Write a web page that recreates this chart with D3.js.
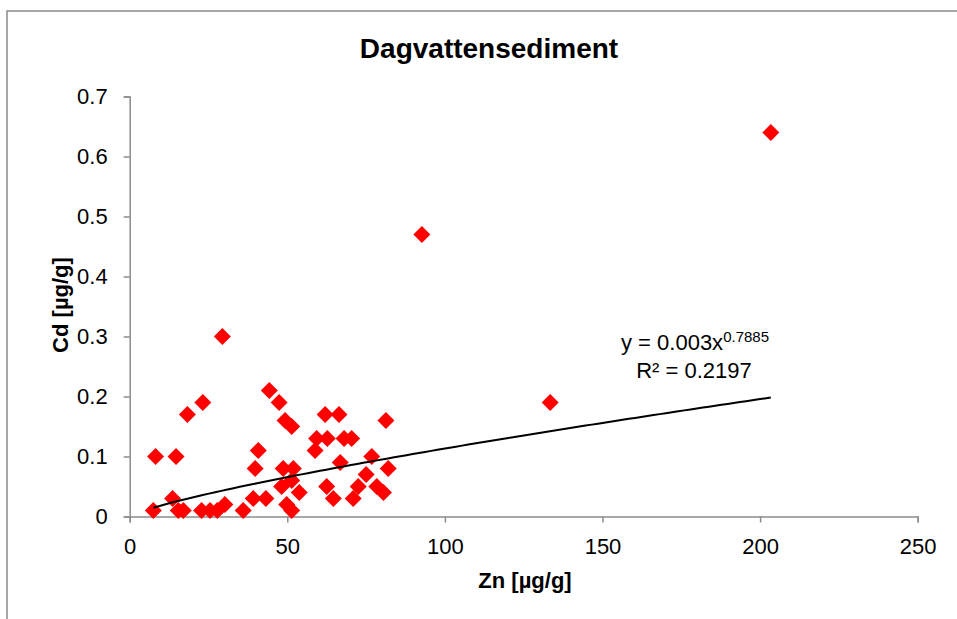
<!DOCTYPE html>
<html>
<head>
<meta charset="utf-8">
<script src="https://cdn.jsdelivr.net/npm/d3@7"></script>
<style>
  body { margin: 0; background: #fff; }
  text { font-family: "Liberation Sans", Arial, sans-serif; fill: #000; }
</style>
</head>
<body>
<svg id="chart" width="957" height="619"></svg>
<script>
// Zn and Cd values
var zn = [7.5, 8.2, 13.6, 14.7, 15.4, 17.0, 18.3, 22.8, 23.2, 25.5,
  27.8, 29.4, 30.2, 36.0, 39.2, 39.8, 40.8, 43.2, 44.3, 47.4,
  48.2, 48.7, 49.3, 49.8, 51.4, 51.4, 51.4, 51.9, 53.8, 58.8,
  59.3, 62.0, 62.5, 62.7, 64.6, 66.4, 66.8, 68.0, 70.4, 70.9,
  72.5, 75.0, 76.8, 78.4, 80.5, 81.3, 82.0, 92.7, 133.4, 203.4];
var cd = [0.01, 0.10, 0.03, 0.10, 0.01, 0.01, 0.17, 0.01, 0.19, 0.01,
  0.01, 0.30, 0.02, 0.01, 0.03, 0.08, 0.11, 0.03, 0.21, 0.19,
  0.05, 0.08, 0.16, 0.02, 0.15, 0.01, 0.06, 0.08, 0.04, 0.11,
  0.13, 0.17, 0.05, 0.13, 0.03, 0.17, 0.09, 0.13, 0.13, 0.03,
  0.05, 0.07, 0.10, 0.05, 0.04, 0.16, 0.08, 0.47, 0.19, 0.64];
var xTicks = [0, 50, 100, 150, 200, 250];
var yTicks = [0, 0.1, 0.2, 0.3, 0.4, 0.5, 0.6, 0.7];
// power trendline from the chart label
var fitA = 0.003, fitB = 0.7885, fitR2 = "0.2197";

var svg = d3.select("#chart");

// outer chart border (runs off right and bottom edges)
svg.append("rect")
  .attr("x", 7).attr("y", 11)
  .attr("width", 1000).attr("height", 700)
  .attr("fill", "none")
  .attr("stroke", "#8c8c8c")
  .attr("stroke-width", 1.5);

var x = d3.scaleLinear().domain([0, 250]).range([129.7, 917.7]);
var y = d3.scaleLinear().domain([0, 0.7]).range([516.5, 96.5]);

svg.append("text")
  .attr("x", 489).attr("y", 58)
  .attr("text-anchor", "middle")
  .style("font-size", "28px")
  .style("font-weight", "bold")
  .text("Dagvattensediment");

var xAxis = svg.append("g")
  .attr("transform", "translate(0," + y(0) + ")")
  .call(d3.axisBottom(x).tickValues(xTicks).tickSize(6).tickPadding(16).tickFormat(d3.format("d")));

var yAxis = svg.append("g")
  .attr("transform", "translate(" + x(0) + ",0)")
  .call(d3.axisLeft(y).tickValues(yTicks).tickSize(6).tickPadding(16).tickFormat(function (d) { return d === 0 ? "0" : d3.format(".1f")(d); }));

[xAxis, yAxis].forEach(function (a) {
  a.select(".domain").attr("stroke", "#8c8c8c").attr("stroke-width", 1.5);
  a.selectAll(".tick line").attr("stroke", "#8c8c8c").attr("stroke-width", 1.5);
  a.selectAll(".tick text")
    .style("font-size", "22px")
    .style("font-family", "'Liberation Sans', Arial, sans-serif")
    .attr("fill", "#000");
});

svg.append("text")
  .attr("x", 525).attr("y", 588)
  .attr("text-anchor", "middle")
  .style("font-size", "22px")
  .style("font-weight", "bold")
  .text("Zn [µg/g]");

svg.append("text")
  .attr("transform", "translate(68," + 305 + ") rotate(-90)")
  .attr("text-anchor", "middle")
  .style("font-size", "22px")
  .style("font-weight", "bold")
  .text("Cd [µg/g]");

// points
var pts = zn.map(function (d, i) { return [d, cd[i]]; });

svg.append("g")
  .selectAll("path")
  .data(pts)
  .enter().append("path")
  .attr("d", "M0,-8.5L8.5,0L0,8.5L-8.5,0Z")
  .attr("transform", function (d) { return "translate(" + x(d[0]) + "," + y(d[1]) + ")"; })
  .attr("fill", "#ff0000");

// trendline
var xMin = d3.min(zn), xMax = d3.max(zn);
var fit = d3.range(0, 101).map(function (i) {
  var v = xMin + (xMax - xMin) * i / 100;
  return [v, fitA * Math.pow(v, fitB)];
});
svg.append("path")
  .datum(fit)
  .attr("fill", "none")
  .attr("stroke", "#000")
  .attr("stroke-width", 2)
  .attr("d", d3.line()
    .x(function (d) { return x(d[0]); })
    .y(function (d) { return y(d[1]); }));

var eq = svg.append("text")
  .attr("x", 695).attr("y", 350)
  .attr("text-anchor", "middle")
  .style("font-size", "22px");
eq.append("tspan").text("y = " + fitA + "x");
eq.append("tspan").attr("dy", -8).style("font-size", "15px").text(fitB);

svg.append("text")
  .attr("x", 694).attr("y", 378)
  .attr("text-anchor", "middle")
  .style("font-size", "22px")
  .text("R² = " + fitR2);
</script>
</body>
</html>
